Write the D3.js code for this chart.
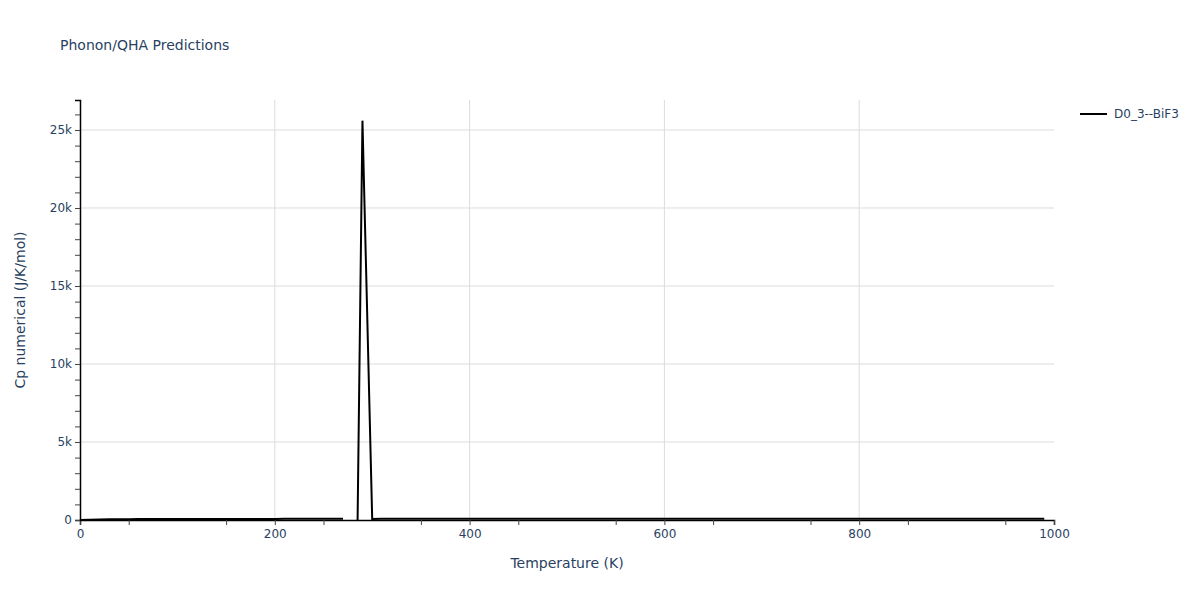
<!DOCTYPE html>
<html>
<head>
<meta charset="utf-8">
<script src="https://cdn.jsdelivr.net/npm/d3@7"></script>
<style>
  body { margin: 0; background: #fff; }
  text { font-family: "DejaVu Sans", verdana, sans-serif; }
</style>
</head>
<body>
<div id="graphic"></div>
<script>
// data: temperature (K) and Cp (J/K/mol)
var temps = [0,10,20,30,40,50,60,70,80,90,100,110,120,130,140,150,160,170,180,190,200,210,220,230,240,250,260,270,280,285,290,300,310,320,330,340,350,360,370,380,390,400,410,420,430,440,450,460,470,480,490,500,510,520,530,540,550,560,570,580,590,600,610,620,630,640,650,660,670,680,690,700,710,720,730,740,750,760,770,780,790,800,810,820,830,840,850,860,870,880,890,900,910,920,930,940,950,960,970,980,990];
var cpValues = [0,15,30,42,50,55,58,60,62,64,65,66,67,68,69,70,70,71,71,72,72,73,73,74,74,75,75,75,null,0,25600,60,76,76,76,77,77,77,77,78,78,78,78,78,78,78,79,79,79,79,79,79,79,79,79,79,80,80,80,80,80,80,80,80,80,80,80,80,80,80,80,80,80,80,80,80,80,80,80,80,80,80,80,80,80,80,80,80,80,80,80,80,80,80,80,80,80,80,80,80,80];
var xTicks = [0,200,400,600,800,1000];
var yTicks = [0,5000,10000,15000,20000,25000];
var seriesName = "D0_3--BiF3";

var width = 1200, height = 600;
var margin = {top: 100, right: 146, bottom: 80, left: 80};
var textColor = "#2a3f5f";

var svg = d3.select("#graphic").append("svg")
	.attr("width", width)
	.attr("height", height);

var x = d3.scaleLinear().domain([0, 1000]).range([margin.left, width - margin.right]);
var y = d3.scaleLinear().domain([0, 26923]).range([height - margin.bottom, margin.top]);

// grid
svg.append("g").selectAll("line")
	.data(xTicks.slice(1, -1))
	.enter().append("line")
	.attr("x1", function(d) { return x(d); })
	.attr("x2", function(d) { return x(d); })
	.attr("y1", y.range()[1])
	.attr("y2", y.range()[0])
	.attr("stroke", "#dcdcdc");

svg.append("g").selectAll("line")
	.data(yTicks.slice(1))
	.enter().append("line")
	.attr("x1", x.range()[0])
	.attr("x2", x.range()[1])
	.attr("y1", function(d) { return y(d); })
	.attr("y2", function(d) { return y(d); })
	.attr("stroke", "#dcdcdc");

var fmtY = function(d) { return d === 0 ? "0" : (d / 1000) + "k"; };

// x axis
svg.append("g")
	.attr("transform", "translate(0," + y(0) + ")")
	.call(d3.axisBottom(x).tickValues(xTicks).tickFormat(d3.format("d")).tickSize(5).tickPadding(4));
svg.append("g")
	.attr("transform", "translate(0," + y(0) + ")")
	.call(d3.axisBottom(x).tickValues(d3.range(50, 1000, 100)).tickSize(5).tickFormat(""))
	.select(".domain").remove();

// y axis
svg.append("g")
	.attr("transform", "translate(" + x(0) + ",0)")
	.call(d3.axisLeft(y).tickValues(yTicks).tickFormat(fmtY).tickSize(5).tickPadding(3));
svg.append("g")
	.attr("transform", "translate(" + x(0) + ",0)")
	.call(d3.axisLeft(y).tickValues(d3.range(1000, 27000, 1000).filter(function(d) { return d % 5000 !== 0; })).tickSize(5).tickFormat(""))
	.select(".domain").remove();

svg.selectAll(".domain").attr("stroke", "#000").attr("stroke-width", 1.5);
svg.selectAll(".tick line").attr("stroke", "#444");
svg.selectAll(".tick text").attr("fill", textColor).style("font-size", "12px");

// line
var points = temps.map(function(t, i) { return {t: t, v: cpValues[i]}; });
var line = d3.line()
	.defined(function(d) { return d.v !== null; })
	.x(function(d) { return x(d.t); })
	.y(function(d) { return y(d.v); });

svg.append("path")
	.datum(points)
	.attr("fill", "none")
	.attr("stroke", "#000")
	.attr("stroke-width", 2)
	.attr("d", line);

// titles
svg.append("text")
	.attr("x", 60).attr("y", 50)
	.attr("fill", textColor)
	.style("font-size", "14px")
	.text("Phonon/QHA Predictions");

svg.append("text")
	.attr("x", (x.range()[0] + x.range()[1]) / 2)
	.attr("y", 568)
	.attr("text-anchor", "middle")
	.attr("fill", textColor)
	.style("font-size", "14px")
	.text("Temperature (K)");

svg.append("text")
	.attr("transform", "translate(25," + ((y.range()[0] + y.range()[1]) / 2) + ") rotate(-90)")
	.attr("text-anchor", "middle")
	.attr("fill", textColor)
	.style("font-size", "14px")
	.text("Cp numerical (J/K/mol)");

// legend
var legend = svg.append("g").attr("transform", "translate(1080,114)");
legend.append("line")
	.attr("x1", 0).attr("x2", 27)
	.attr("stroke", "#000").attr("stroke-width", 2);
legend.append("text")
	.attr("x", 34).attr("y", 4)
	.attr("fill", textColor)
	.style("font-size", "12px")
	.text(seriesName);
</script>
</body>
</html>
